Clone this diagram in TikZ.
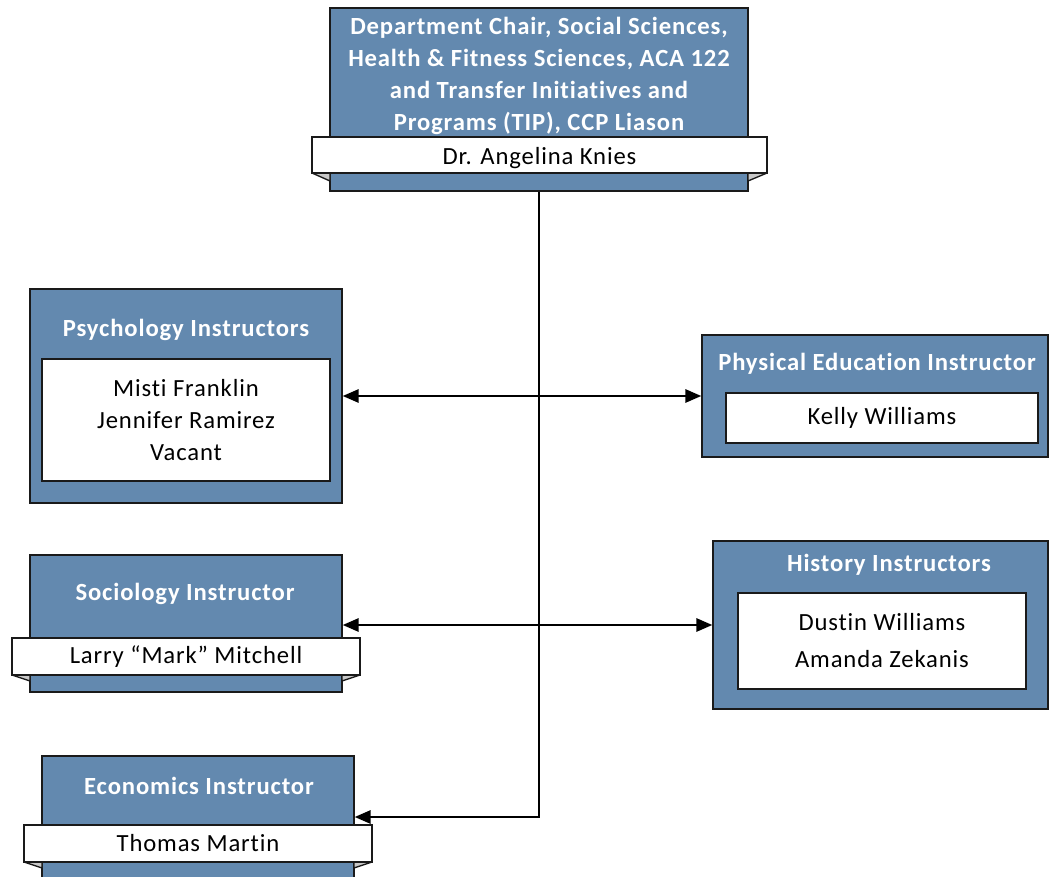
\documentclass[tikz,border=0pt]{standalone}
\usepackage{fontspec}
\setmainfont{Carlito}[LetterSpace=3.5, Ligatures=NoCommon]
\usetikzlibrary{arrows.meta}
\definecolor{boxblue}{HTML}{6389AF}
\definecolor{foldgray}{HTML}{C8C8C8}
\definecolor{edge}{HTML}{1A1A1A}
\tikzset{
  bluebox/.style={draw=edge, line width=1.1pt, fill=boxblue, inner sep=0pt},
  whitebox/.style={draw=edge, line width=1.1pt, fill=white, inner sep=0pt, align=center, font=\fontsize{18.5}{24}\selectfont},
  titletext/.style={text=white, align=center, inner sep=0pt, font=\bfseries\fontsize{18.5}{24}\selectfont},
  fold/.style={draw=edge, line width=1pt, fill=foldgray, line join=round},
  conn/.style={line width=1.6pt, draw=black},
}
\begin{document}
\begin{tikzpicture}[x=0.75pt,y=-0.75pt]
\useasboundingbox (0,0) rectangle (1050,877);
% top
\node[bluebox, minimum width=313.5pt, minimum height=137.25pt] (top) at (539,99.5) {};
\node[titletext] (toptitle) at (539,75.5) {Department Chair, Social Sciences,\\Health \& Fitness Sciences, ACA 122\\and Transfer Initiatives and\\Programs (TIP), CCP Liason};
\filldraw[fold] (312,173) -- (330,173) -- (330,181) -- cycle;
\filldraw[fold] (767,173) -- (748,173) -- (748,181) -- cycle;
\node[whitebox, minimum width=341.25pt, minimum height=27pt, text depth=0pt] (topname) at (539.5,155) {\raisebox{-1.5pt}{Dr. Angelina Knies}};
% psychology
\node[bluebox, minimum width=234pt, minimum height=160.5pt] (psy) at (186,396) {};
\node[titletext] (psytitle) at (186,330) {Psychology Instructors};
\node[whitebox, minimum width=216pt, minimum height=91.5pt] (psynames) at (186,420) {Misti Franklin\\Jennifer Ramirez\\Vacant};
% physical education
\node[bluebox, minimum width=259.5pt, minimum height=91.5pt] (phys) at (875,396) {};
\node[titletext] (phystitle) at (877,364) {Physical Education Instructor};
\node[whitebox, minimum width=234pt, minimum height=37.5pt] (physnames) at (882,418) {\raisebox{-2pt}{Kelly Williams}};
% sociology
\node[bluebox, minimum width=234pt, minimum height=102.75pt] (soc) at (186,623.5) {};
\node[titletext] (soctitle) at (185,594) {Sociology Instructor};
\filldraw[fold] (12,675) -- (30,675) -- (30,681) -- cycle;
\filldraw[fold] (360,675) -- (342,675) -- (342,681) -- cycle;
\node[whitebox, minimum width=261pt, minimum height=27.75pt] (socname) at (186,656.5) {\raisebox{-1pt}{Larry “Mark” Mitchell}};
% history
\node[bluebox, minimum width=251.25pt, minimum height=126pt] (hist) at (880.5,625) {};
\node[titletext] (histtitle) at (889,565) {History Instructors};
\node[whitebox, minimum width=216pt, minimum height=72pt, font=\fontsize{18.5}{27.75}\selectfont] (histnames) at (882,641) {Dustin Williams\\Amanda Zekanis};
% economics
\node[bluebox, minimum width=234pt, minimum height=91.5pt] (eco) at (198,817) {};
\node[titletext] (ecotitle) at (199,786) {Economics Instructor};
\filldraw[fold] (24,862) -- (42,862) -- (42,868) -- cycle;
\filldraw[fold] (372,862) -- (354,862) -- (354,868) -- cycle;
\node[whitebox, minimum width=261pt, minimum height=27.75pt] (econame) at (198,843.5) {\raisebox{-2pt}{Thomas Martin}};
% connectors
\draw[conn, -{Triangle[length=12pt,width=10pt]}] (top.south) |- (eco.east);
\draw[conn, {Triangle[length=12pt,width=10pt]}-{Triangle[length=12pt,width=10pt]}] (psy.east) -- (phys.west);
\draw[conn, {Triangle[length=12pt,width=10pt]}-{Triangle[length=12pt,width=10pt]}] (hist.west -| soc.east) -- (hist.west);
\end{tikzpicture}
\end{document}
